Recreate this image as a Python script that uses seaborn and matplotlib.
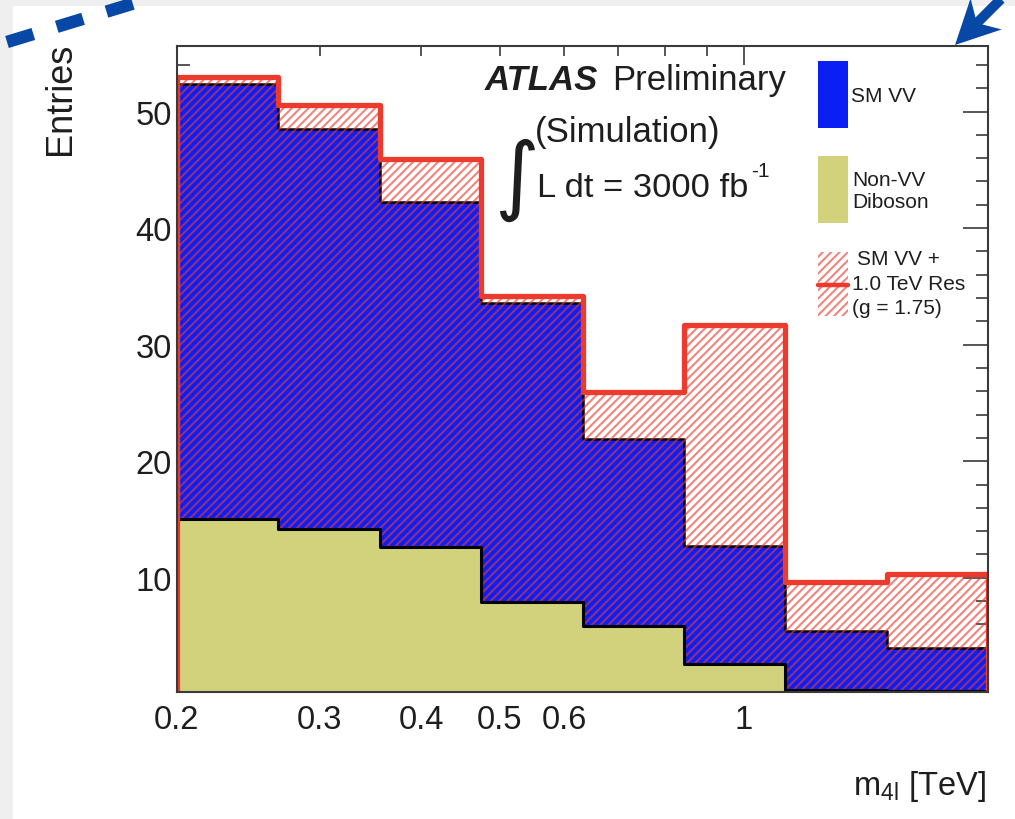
import numpy as np
import pandas as pd
import matplotlib
matplotlib.use("Agg")
import matplotlib.pyplot as plt
import seaborn as sns
from matplotlib.transforms import Affine2D
from matplotlib.patches import Rectangle, Polygon
from matplotlib.lines import Line2D
from matplotlib.ticker import FixedLocator, FixedFormatter, MultipleLocator

# ---- data: four-lepton invariant mass, 8 log-uniform bins (TeV) ----
bin_edges = [0.2, 0.2667, 0.3557, 0.4743, 0.6325, 0.8434, 1.1247, 1.4998, 2.0]
non_vv = [15.0, 14.2, 12.6, 7.9, 5.9, 2.6, 0.35, 0.3]          # Non-VV diboson
sm_vv = [37.4, 34.3, 29.6, 25.7, 16.0, 10.1, 5.05, 3.7]         # SM VV scattering
resonance = [0.6, 2.1, 3.7, 0.6, 4.0, 19.0, 4.25, 6.3]          # 1.0 TeV resonance (g = 1.75)

x_major_ticks = [1.0]
x_major_labels = ["1"]
x_minor_ticks = [0.2, 0.3, 0.4, 0.5, 0.6, 0.7, 0.8, 0.9, 2.0]
x_minor_labels = ["0.2", "0.3", "0.4", "0.5", "0.6", "", "", "", ""]
y_major_ticks = [10, 20, 30, 40, 50]

BLUE = "#0b1ff5"
OLIVE = "#d3d27c"
RED = "#ec3b2c"
HATCH = (0.92, 0.22, 0.18, 0.62)
HATCH_STYLE = "////"
ARROW_BLUE = "#0747a6"
INK = "#1e1e1e"

W, H = 1015, 820

sns.set_style("ticks")
plt.rcParams.update({
    "font.family": ["Liberation Sans", "DejaVu Sans"],
    "mathtext.default": "regular",
    "hatch.linewidth": 1.5,
    "axes.linewidth": 1.5,
    "axes.edgecolor": "#3a3a3a",
})

fig = plt.figure(figsize=(W / 100, H / 100), dpi=100)
fig.patch.set_facecolor("white")
# pixel coordinates, origin top-left
pix = Affine2D().scale(1 / W, -1 / H).translate(0, 1) + fig.transFigure

ax = fig.add_axes([176.7 / W, 1 - 693 / H, (988.3 - 176.7) / W, (693 - 46.7) / H])

edges = np.asarray(bin_edges)
df = pd.DataFrame({
    "m4l": np.sqrt(edges[:-1] * edges[1:]),
    "non_vv": non_vv,
})
df["sm_stack"] = df["non_vv"] + np.asarray(sm_vv)
df["total"] = df["sm_stack"] + np.asarray(resonance)
log_bins = [float(b) for b in np.log10(edges)]

common = dict(data=df, x="m4l", bins=log_bins, log_scale=True,
              element="step", ax=ax)

# SM VV stacked on top of Non-VV
sns.histplot(weights="sm_stack", fill=True, color=BLUE, edgecolor="black",
             linewidth=1.8, alpha=1, **common)
# SM VV + resonance, hatched
sns.histplot(weights="total", fill=True, color=RED, facecolor="none",
             edgecolor=HATCH, linewidth=0, hatch=HATCH_STYLE, **common)
# Non-VV diboson
sns.histplot(weights="non_vv", fill=True, color=OLIVE, edgecolor="black",
             linewidth=2.2, alpha=1, **common)
# SM VV + resonance outline
sns.histplot(weights="total", fill=True, color=RED, facecolor="none",
             edgecolor=RED, linewidth=3.8, **common)

ax.set_xlim(0.2, 2.0)
ax.set_ylim(0.2, 55.65)
ax.set_xlabel("")
ax.set_ylabel("")

ax.xaxis.set_major_locator(FixedLocator(x_major_ticks))
ax.xaxis.set_major_formatter(FixedFormatter(x_major_labels))
ax.xaxis.set_minor_locator(FixedLocator(x_minor_ticks))
ax.xaxis.set_minor_formatter(FixedFormatter(x_minor_labels))
ax.yaxis.set_major_locator(FixedLocator(y_major_ticks))
ax.yaxis.set_minor_locator(MultipleLocator(2))

ax.tick_params(axis="both", which="both", direction="in", top=True, right=True,
               color="#3a3a3a", width=1.2, labelsize=23.5, labelcolor=INK)
ax.tick_params(axis="x", which="major", length=14, pad=8.5)
ax.tick_params(axis="x", which="minor", length=7, pad=8.5)
ax.tick_params(axis="y", which="major", length=18, pad=3.5)
ax.tick_params(axis="y", which="minor", length=9, pad=3.5)
for s in ax.spines.values():
    s.set_zorder(5)

# axis titles
fig.text(61, 43, "Entries", transform=pix, rotation=90, ha="center", va="top",
         fontsize=26, color=INK)
fig.text(986, 787, r"m$_{4l}$ [TeV]", transform=pix, ha="right", va="center",
         fontsize=23.5, color=INK)

# experiment label
fig.text(485, 90, "ATLAS", transform=pix, ha="left", va="baseline", fontsize=25,
         fontweight="bold", fontstyle="italic", color=INK)
fig.text(612, 90, "Preliminary", transform=pix, ha="left", va="baseline",
         fontsize=25, color=INK)
fig.text(535, 142, "(Simulation)", transform=pix, ha="left", va="baseline",
         fontsize=25, color=INK)
fig.text(517, 180, "\u222b", transform=pix, ha="center", va="center",
         fontsize=62, family="DejaVu Sans", color=INK)
fig.text(537, 197, "L dt = 3000 fb", transform=pix, ha="left", va="baseline",
         fontsize=24.8, color=INK)
fig.text(751, 177, "-1", transform=pix, ha="left", va="baseline",
         fontsize=15, color=INK)

# legend
fig.patches.append(Rectangle((818, 62), 30, 67, transform=pix, facecolor=BLUE,
                             edgecolor="none", figure=fig))
fig.text(851, 97, "SM VV", transform=pix, ha="left", va="center", fontsize=15, color=INK)
fig.patches.append(Rectangle((818, 157), 30, 67, transform=pix, facecolor=OLIVE,
                             edgecolor="none", figure=fig))
fig.text(852, 191, "Non-VV\nDiboson", transform=pix, ha="left", va="center",
         fontsize=15, linespacing=1.2, color=INK)
fig.patches.append(Rectangle((818, 253), 30, 64, transform=pix, facecolor="none",
                             edgecolor=HATCH, linewidth=0, hatch=HATCH_STYLE, figure=fig))
fig.lines.append(Line2D([818, 848], [286, 286], transform=pix, color=RED,
                        linewidth=3.2, figure=fig))
fig.text(857, 260, "SM VV +", transform=pix, ha="left", va="center", fontsize=15, color=INK)
fig.text(852, 285, "1.0 TeV Res", transform=pix, ha="left", va="center", fontsize=15, color=INK)
fig.text(852, 309, "(g = 1.75)", transform=pix, ha="left", va="center", fontsize=15, color=INK)

# page frame
fig.patches.append(Rectangle((0, 0), 13, H, transform=pix, facecolor="#efefef",
                             edgecolor="none", figure=fig, zorder=8))
fig.patches.append(Rectangle((0, 0), W, 7, transform=pix, facecolor="#efefef",
                             edgecolor="none", figure=fig, zorder=8))

# pointer annotations
lw_dash = 12.5 * 0.72
dash = Line2D([7, 190], [43, 43 - 0.305 * 183], transform=pix, color=ARROW_BLUE,
              linewidth=lw_dash, solid_capstyle="butt", dash_capstyle="butt",
              linestyle=(0, (27.5 / 12.5, 24.5 / 12.5)), figure=fig, zorder=9)
fig.lines.append(dash)

u = np.array([1.0, -1.0]) / np.sqrt(2)
v = np.array([1.0, 1.0]) / np.sqrt(2)
tip = np.array([955.0, 46.0])
head = [tip, tip + 44 * u - 22 * v, tip + 31 * u, tip + 44 * u + 22 * v]
fig.patches.append(Polygon(head, closed=True, transform=pix, facecolor=ARROW_BLUE,
                           edgecolor="none", figure=fig, zorder=9))
shaft_start = tip + 30 * u
shaft_end = tip + 120 * u
fig.lines.append(Line2D([shaft_start[0], shaft_end[0]], [shaft_start[1], shaft_end[1]],
                        transform=pix, color=ARROW_BLUE, linewidth=10 * 0.72,
                        solid_capstyle="butt", figure=fig, zorder=9))

fig.savefig("out.png", dpi=100)
